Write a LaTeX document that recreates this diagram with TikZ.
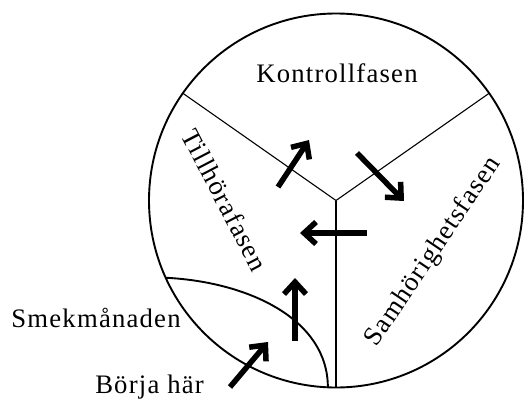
\documentclass[tikz,border=0pt]{standalone}
\usepackage{fontspec}
\setmainfont{Liberation Serif}[LetterSpace=4.5]
\usetikzlibrary{arrows.meta,calc}
\tikzset{
  lbl/.style={inner sep=0pt, font=\fontsize{26.7}{32}\selectfont},
  thinline/.style={line width=1.1pt},
  thickarrow/.style={line width=5.5pt, -{Straight Barb[length=12pt,width=22pt]}},
}
\begin{document}
\begin{tikzpicture}[x=1pt,y=1pt]
\useasboundingbox (0,0) rectangle (527,400);
\coordinate (O) at (336,199.5);
\draw[line width=1.9pt] (O) circle[radius=187];
\coordinate (L) at ($(O)+(145:187)$);
\coordinate (R) at ($(O)+(35:187)$);
\coordinate (B) at ($(O)+(270:187)$);
\draw[thinline] (L) -- (O) -- (R);
\draw[thinline] (O) -- (B);
\coordinate (cs) at ($(O)+(204.4:187)$);
\coordinate (ce) at ($(O)+(267.5:187)$);
\draw[line width=1.9pt] (cs) .. controls (250,118) and (328,80) .. (ce);
% arrows
\coordinate (a1s) at (230,13); \coordinate (a1e) at (268,58);
\coordinate (a2s) at (295,59); \coordinate (a2e) at (295,122);
\coordinate (a3s) at (367,167); \coordinate (a3e) at (300,167);
\coordinate (a4s) at (278,213); \coordinate (a4e) at (309,260);
\coordinate (a5s) at (357,247); \coordinate (a5e) at (404,199);
\draw[thickarrow] (a1s) -- (a1e);
\draw[thickarrow] (a2s) -- (a2e);
\draw[thickarrow] (a3s) -- (a3e);
\draw[thickarrow] (a4s) -- (a4e);
\draw[thickarrow] (a5s) -- (a5e);
% labels
\node[lbl, anchor=base] (kon) at (337,318) {Kontrollfasen};
\node[lbl, anchor=base] (sme) at (96,73) {Smekmånaden};
\node[lbl, anchor=base] (bor) at (149.5,7) {Börja här};
\node[lbl, rotate=-62.5] (til) at (225,200) {Tillhörafasen};
\node[lbl, rotate=56] (sam) at (433.5,148) {Samhörighetsfasen};
\end{tikzpicture}
\end{document}
